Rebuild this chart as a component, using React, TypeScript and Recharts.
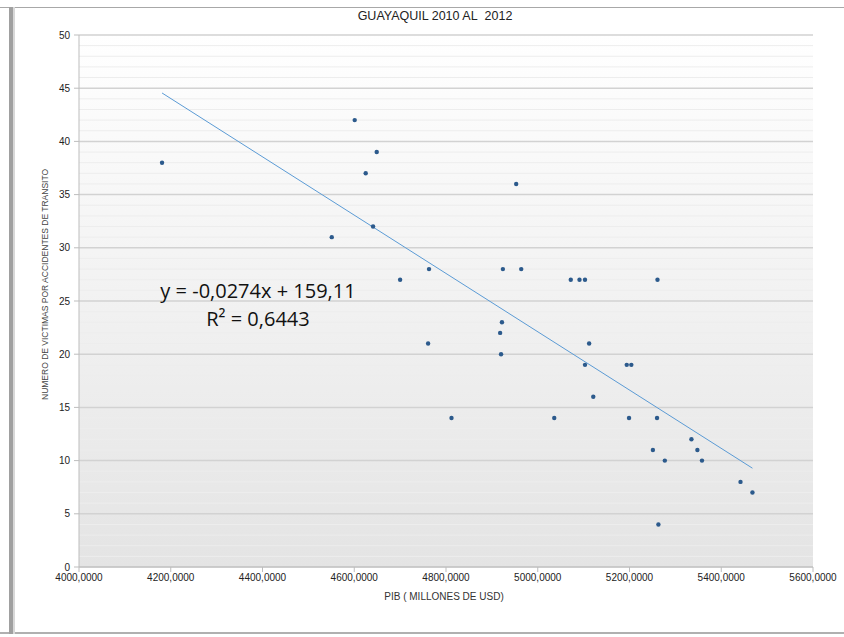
import React from 'react';
import { ScatterChart, Scatter, XAxis, YAxis, CartesianGrid, ReferenceLine } from 'recharts';

const pibValues = [4181, 4551, 4601, 4625, 4649, 4641, 4700, 4763, 4761, 4812, 4924, 4922, 4918, 4920, 4953, 4964, 5036, 5072, 5091, 5103, 5112, 5103, 5121, 5194, 5204, 5199, 5261, 5260, 5251, 5277, 5263, 5335, 5348, 5358, 5442, 5468];
const victimValues = [38, 31, 42, 37, 39, 32, 27, 28, 21, 14, 28, 23, 22, 20, 36, 28, 14, 27, 27, 27, 21, 19, 16, 19, 19, 14, 27, 14, 11, 10, 4, 12, 11, 10, 8, 7];
const xTicks = [4000, 4200, 4400, 4600, 4800, 5000, 5200, 5400, 5600];
const yTicks = [0, 5, 10, 15, 20, 25, 30, 35, 40, 45, 50];
const minorY = [1, 2, 3, 4, 6, 7, 8, 9, 11, 12, 13, 14, 16, 17, 18, 19, 21, 22, 23, 24, 26, 27, 28, 29, 31, 32, 33, 34, 36, 37, 38, 39, 41, 42, 43, 44, 46, 47, 48, 49];
const trendSlope = -0.0274;
const trendIntercept = 159.11;

const points = pibValues.map((x, i) => ({ x, y: victimValues[i] }));
const xMin = Math.min(...pibValues);
const xMax = Math.max(...pibValues);
const trendSegment = [
  { x: xMin, y: trendSlope * xMin + trendIntercept },
  { x: xMax, y: trendSlope * xMax + trendIntercept },
];

const font = "'Liberation Sans Narrow', 'Liberation Sans', sans-serif";
const eqFont = "'Open Sans', sans-serif";
const fmtX = (v: number) => v.toFixed(4).replace('.', ',');

const Dot = (props: any) => <circle cx={props.cx} cy={props.cy} r={2.2} fill="#2c5a8c" />;

export default function App() {
  return (
    <div style={{ position: 'absolute', left: 0, top: 0, width: 844, height: 637, background: '#fff', overflow: 'hidden', fontFamily: font }}>
      <div style={{ position: 'absolute', left: 0, top: 7, width: 844, height: 1, background: '#a8a8a8' }} />
      <div style={{ position: 'absolute', left: 0, top: 632, width: 844, height: 2, background: '#b0b0b0' }} />
      <div style={{ position: 'absolute', left: 9, top: 7, width: 4, height: 627, background: '#a0a0a0' }} />
      <div style={{ position: 'absolute', left: 13, top: 7, width: 2, height: 627, background: '#d8d8d8' }} />
      <ScatterChart width={844} height={637} margin={{ top: 35, right: 31, bottom: 40, left: 49 }} style={{ position: 'absolute', left: 0, top: 0 }}>
        <defs>
          <linearGradient id="bgGrad" x1="0" y1="0" x2="0" y2="1">
            <stop offset="0%" stopColor="#ffffff" />
            <stop offset="100%" stopColor="#e4e4e4" />
          </linearGradient>
        </defs>
        <CartesianGrid vertical={false} fill="url(#bgGrad)" stroke="#d2d2d2" strokeWidth={1.5} />
        {minorY.map((v) => (
          <ReferenceLine key={v} y={v} stroke="#ededed" strokeWidth={1} />
        ))}
        <XAxis
          type="number"
          dataKey="x"
          domain={[4000, 5600]}
          ticks={xTicks}
          tickFormatter={fmtX}
          height={30}
          stroke="#bdbdbd"
          tickSize={5}
          tickMargin={2}
          tick={{ fontSize: 10, fill: '#222', fontFamily: font }}
          allowDataOverflow
        />
        <YAxis
          type="number"
          dataKey="y"
          domain={[0, 50]}
          ticks={yTicks}
          width={30}
          stroke="#bdbdbd"
          tickSize={5}
          tickMargin={4}
          tick={{ fontSize: 10, fill: '#222', fontFamily: font }}
          allowDataOverflow
        />
        <ReferenceLine segment={trendSegment} stroke="#5b9bd5" strokeWidth={1} />
        <Scatter data={points} shape={Dot} isAnimationActive={false} />
      </ScatterChart>
      <div style={{ position: 'absolute', left: 235, top: 9, width: 400, textAlign: 'center', fontSize: 12.5, color: '#222' }}>
        GUAYAQUIL 2010 AL&nbsp; 2012
      </div>
      <div style={{ position: 'absolute', left: 244, top: 591, width: 400, textAlign: 'center', fontSize: 10, color: '#333' }}>
        PIB ( MILLONES DE USD)
      </div>
      <div style={{ position: 'absolute', left: 45 - 110, top: 290 - 6, width: 220, height: 12, textAlign: 'center', fontSize: 8.5, lineHeight: '12px', color: '#444', transform: 'rotate(-90deg)', whiteSpace: 'nowrap' }}>
        NUMERO DE VICTIMAS POR ACCIDENTES DE TRANSITO
      </div>
      <div style={{ position: 'absolute', left: 98, top: 280, width: 320, height: 22, textAlign: 'center', fontSize: 20, lineHeight: '22px', color: '#111', fontFamily: eqFont }}>
        y = -0,0274x + 159,11
      </div>
      <div style={{ position: 'absolute', left: 98, top: 308, width: 320, height: 22, textAlign: 'center', fontSize: 20, lineHeight: '22px', color: '#111', fontFamily: eqFont }}>
        R² = 0,6443
      </div>
    </div>
  );
}
